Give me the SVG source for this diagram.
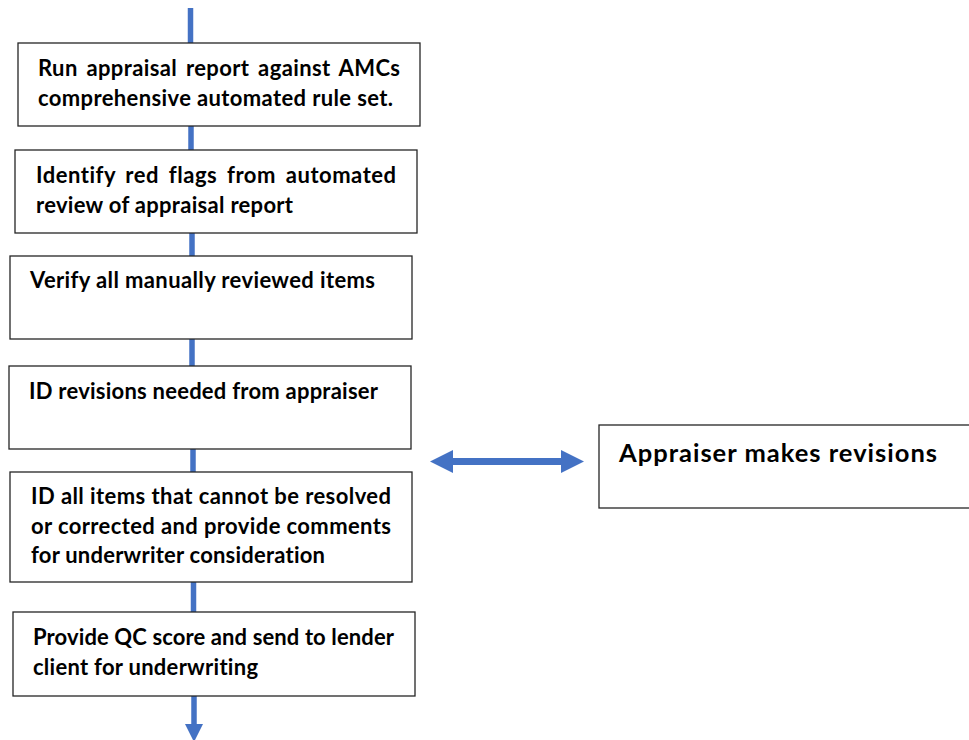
<svg xmlns="http://www.w3.org/2000/svg" width="969" height="740" viewBox="0 0 969 740">
<style>
.box{fill:#fff;stroke:#262626;stroke-width:1.3}
.t{font-family:Lato,"Open Sans","Liberation Sans",sans-serif;font-weight:700;font-size:22px;fill:#000;font-variant-ligatures:none}
.tb{font-family:Lato,"Open Sans","Liberation Sans",sans-serif;font-weight:700;font-size:25.5px;fill:#000;font-variant-ligatures:none}
.ln{stroke:#4472C4;stroke-width:5.5;fill:none}
</style>
<g id="connectors">
<line class="ln" x1="190.5" y1="8" x2="190.5" y2="43"/>
<line class="ln" x1="191" y1="126" x2="191" y2="150"/>
<line class="ln" x1="192" y1="233" x2="192" y2="256"/>
<line class="ln" x1="192" y1="339" x2="192" y2="366"/>
<line class="ln" x1="193" y1="449" x2="193" y2="472"/>
<line class="ln" x1="193.5" y1="582" x2="193.5" y2="612"/>
<line class="ln" x1="194" y1="696" x2="194" y2="727"/>
<polygon points="185,724 203,724 194,742" fill="#4472C4"/>
<line stroke="#4472C4" stroke-width="7" x1="450" y1="461.5" x2="565" y2="461.5"/>
<polygon points="430,461.5 453,450 453,473" fill="#4472C4"/>
<polygon points="584,461.5 561,450 561,473" fill="#4472C4"/>
</g>
<g id="n1">
<rect class="box" x="18" y="43" width="402" height="83"/>
<text class="t" x="38" y="76" textLength="362" word-spacing="3">Run appraisal report against AMCs</text>
<text class="t" x="38" y="106" textLength="355">comprehensive automated rule set.</text>
</g>
<g id="n2">
<rect class="box" x="15" y="150" width="402" height="83"/>
<text class="t" x="36" y="183" textLength="360" word-spacing="4">Identify red flags from automated</text>
<text class="t" x="36" y="213" textLength="257">review of appraisal report</text>
</g>
<g id="n3">
<rect class="box" x="10" y="256" width="402" height="83"/>
<text class="t" x="30" y="288" textLength="345">Verify all manually reviewed items</text>
</g>
<g id="n4">
<rect class="box" x="9" y="366" width="402" height="83"/>
<text class="t" x="29" y="399" textLength="349">ID revisions needed from appraiser</text>
</g>
<g id="n5">
<rect class="box" x="10" y="472" width="402" height="110"/>
<text class="t" x="31" y="504" textLength="360">ID all items that cannot be resolved</text>
<text class="t" x="31" y="534" textLength="360">or corrected and provide comments</text>
<text class="t" x="31" y="563" textLength="294">for underwriter consideration</text>
</g>
<g id="n6">
<rect class="box" x="13" y="612" width="402" height="84"/>
<text class="t" x="33" y="645" textLength="361">Provide QC score and send to lender</text>
<text class="t" x="33" y="675" textLength="225">client for underwriting</text>
</g>
<g id="n7">
<rect class="box" x="599" y="425" width="372" height="83"/>
<text class="tb" x="619" y="462" textLength="318">Appraiser makes revisions</text>
</g>
</svg>
